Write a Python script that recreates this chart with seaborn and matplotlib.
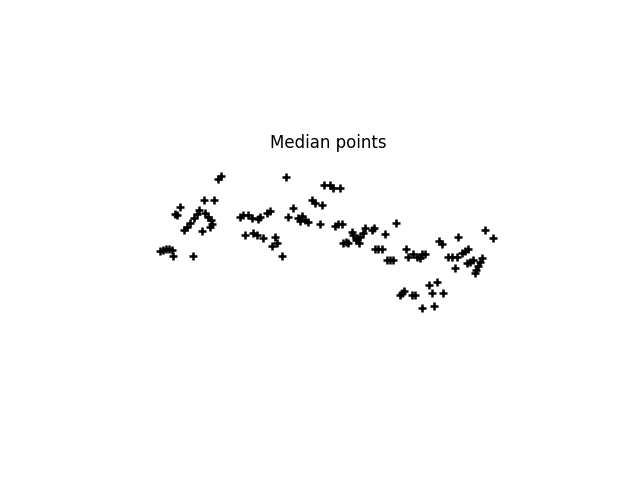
import matplotlib
matplotlib.use("Agg")
import matplotlib.pyplot as plt
import seaborn as sns
import pandas as pd

# Median point positions (pixel-like units, y downwards)
x_vals = [160, 163, 166, 169, 172, 173, 193,
          180, 175, 177, 184, 187, 190, 194, 197, 199, 205, 208, 211, 212, 210, 202, 204, 214, 218, 221,
          240, 243, 248, 252, 258, 260, 267, 270, 245, 253, 257, 263, 275, 277, 272, 282, 286,
          293, 288, 298, 302, 305, 308, 300, 312, 315, 322, 320, 324, 330, 333, 340,
          335, 338, 342, 352, 353, 343, 346, 348, 356, 357, 360, 363, 365, 359, 372, 374, 385, 396,
          375, 378, 382, 387, 390, 393,
          406, 408, 413, 417, 420, 422, 425, 439, 442, 458, 485, 493, 448, 452, 457, 462, 465, 468, 455,
          467, 470, 473, 482, 480, 478, 476, 475,
          400, 402, 404, 412, 415, 429, 437, 432, 443, 422, 434]
y_vals = [251, 250, 249, 249, 250, 256, 256,
          207, 214, 215, 230, 227, 223, 218, 214, 210, 213, 217, 220, 224, 227, 231, 200, 200, 179, 176,
          217, 215, 215, 218, 219, 217, 213, 211, 235, 233, 235, 238, 237, 243, 246, 256, 177,
          208, 217, 218, 216, 220, 222, 221, 200, 203, 205, 224, 185, 185, 188, 188,
          226, 224, 224, 232, 235, 243, 242, 243, 240, 238, 237, 233, 228, 243, 230, 228, 234, 223,
          249, 249, 249, 260, 260, 260,
          249, 257, 254, 257, 258, 254, 254, 241, 244, 237, 230, 238, 257, 257, 257, 253, 251, 249, 268,
          263, 262, 260, 258, 262, 266, 270, 273,
          295, 293, 291, 295, 295, 285, 282, 293, 293, 308, 306]

df = pd.DataFrame({"x": x_vals, "y": y_vals})

fig = plt.figure(figsize=(6.4, 4.8), dpi=100)
ax = fig.add_axes([0, 0, 1, 1])
sns.scatterplot(data=df, x="x", y="y", marker="+", s=30, color="black",
                linewidth=1.8, ax=ax, legend=False)
ax.set_xlim(0, 640)
ax.set_ylim(480, 0)
ax.axis("off")
ax.text(328, 148, "Median points", ha="center", va="baseline", fontsize=12)
fig.savefig("out.png", dpi=100)
